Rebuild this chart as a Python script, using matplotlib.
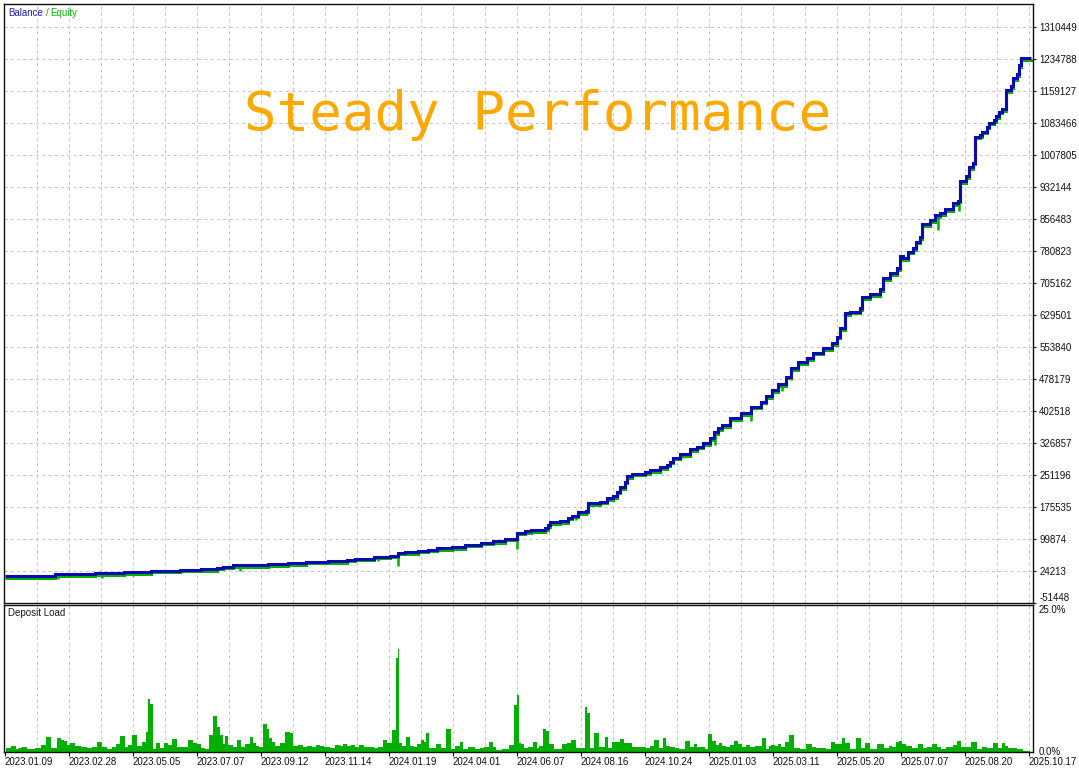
import numpy as np
import matplotlib.pyplot as plt
import matplotlib.transforms as mtransforms
from matplotlib import font_manager

# x runs in chart steps, one date label every 64 steps
date_labels = ['2023.01.09', '2023.02.28', '2023.05.05', '2023.07.07', '2023.09.12',
               '2023.11.14', '2024.01.19', '2024.04.01', '2024.06.07', '2024.08.16',
               '2024.10.24', '2025.01.03', '2025.03.11', '2025.05.20', '2025.07.07',
               '2025.08.20', '2025.10.17']
value_labels = ['-51448', '24213', '99874', '175535', '251196', '326857', '402518',
                '478179', '553840', '629501', '705162', '780823', '856483', '932144',
                '1007805', '1083466', '1159127', '1234788', '1310449']
load_labels = ['0.0%', '25.0%']

# balance steps: (step, balance in thousands)
balance_steps = [
    (0, 11.9), (50, 16.4), (90, 18.8), (119, 21.1), (146, 24.2), (175, 26.6),
    (196, 28.9), (212, 31.3), (218, 34.4), (228, 37.7), (263, 40.0), (283, 42.4),
    (301, 45.5), (323, 47.8), (342, 50.9), (350, 53.3), (369, 57.3), (385, 60.8),
    (393, 67.4), (400, 69.1), (413, 71.5), (423, 74.5), (432, 77.8), (447, 80.9),
    (460, 86.3), (476, 91.1), (488, 94.4), (500, 100.5), (512, 115.2), (520, 118.0),
    (526, 121.1), (540, 125.8), (543, 132.9), (545, 140.0), (555, 142.3), (563, 150.2),
    (567, 154.9), (573, 162.9), (581, 166.7), (583, 184.2), (595, 187.9), (602, 196.0),
    (608, 201.4), (612, 211.6), (615, 222.0), (620, 235.2), (622, 248.7), (627, 253.5),
    (640, 257.4), (645, 262.9), (655, 269.3), (662, 275.4), (665, 282.5), (668, 291.9),
    (675, 299.9), (685, 312.4), (692, 317.9), (698, 325.9), (705, 338.5), (709, 352.7),
    (713, 362.1), (717, 369.2), (725, 385.0), (736, 396.8), (746, 412.4), (756, 424.3),
    (761, 437.7), (767, 451.9), (773, 465.4), (781, 483.3), (786, 503.2), (793, 517.4),
    (802, 526.8), (808, 540.0), (818, 550.4), (827, 562.2), (832, 577.8), (835, 597.7),
    (840, 633.1), (845, 636.9), (855, 644.9), (857, 670.9), (865, 678.8), (875, 689.9),
    (878, 715.8), (885, 727.7), (892, 739.5), (895, 768.5), (898, 763.1), (903, 778.7),
    (908, 786.7), (911, 802.3), (915, 812.7), (917, 844.1), (925, 853.6), (930, 865.4),
    (935, 869.4), (940, 878.8), (948, 893.0), (953, 899.6), (955, 945.8), (961, 957.6),
    (964, 978.9), (968, 989.5), (970, 1050.5), (975, 1054.5), (977, 1062.8), (982, 1074.6),
    (984, 1084.0), (989, 1090.0), (991, 1099.4), (994, 1110.0), (997, 1115.9),
    (1001, 1160.8), (1006, 1170.3), (1008, 1189.1), (1012, 1198.6), (1014, 1219.9),
    (1016, 1236.4), (1026, 1237.5),
]

# equity drawdown spikes: (step, lowest equity in thousands)
equity_dips = [
    (53, 7.7), (97, 10.7), (128, 14.8), (235, 28.2), (373, 51.9), (393, 40.7),
    (512, 80.9), (571, 148.7), (582, 160.6), (678, 294.3), (710, 326.0),
    (746, 382.7), (777, 453.5), (786, 479.5), (827, 554.2), (933, 834.0), (954, 878.8),
]

# deposit load bars: (step, load %)
deposit_load = [
    (2, 0.74), (9, 1.03), (12.5, 0.51), (15, 0.68), (19.7, 0.86), (24.2, 0.51),
    (28.3, 0.46), (32.5, 0.63), (38.7, 1.2), (43.3, 2.57), (49.2, 0.63), (54.7, 2.4),
    (57.2, 2.05), (60, 1.88), (63.3, 1.15), (67.5, 1.49), (72.5, 1.03), (79.2, 0.8),
    (84.2, 0.74), (89.7, 0.91), (95, 1.66), (99.2, 0.91), (104.2, 0.51), (109.2, 0.91),
    (113.3, 1.37), (117.5, 2.74), (121.7, 0.8), (125, 1.2), (129.3, 2.86), (134.2, 1.03),
    (140, 1.71), (142.5, 3.42), (144.2, 9.02), (145.8, 8.22), (149.2, 0.51), (153.3, 1.59),
    (156.7, 0.63), (161.7, 1.59), (165, 1.2), (169.2, 2.23), (174.2, 0.91), (179.2, 0.86),
    (186.3, 2.05), (190, 1.59), (194.2, 1.32), (198.3, 0.63), (201.7, 0.51), (205.7, 2.91),
    (211.2, 6.16), (213.3, 4.23), (216, 2.91), (219, 1.37), (221.8, 2.74), (225, 1.2),
    (230, 0.86), (234.5, 2.05), (237.8, 0.91), (243, 1.37), (246, 2.62), (249.3, 1.49),
    (252.7, 1.03), (256, 0.86), (260, 4.79), (263, 3.94), (265.5, 2.35), (268.3, 1.66),
    (271.7, 1.08), (277.5, 1.49), (283.3, 3.37), (285.8, 3.3), (290.3, 1.08),
    (296.3, 1.2), (299.7, 0.91), (304.2, 1.08), (308.8, 0.86), (313, 1.2), (316.7, 1.03),
    (321.7, 0.8), (327.5, 0.68), (333, 1.2), (336.7, 1.03), (340, 1.37), (343.3, 1.03),
    (348.3, 1.15), (351.7, 0.91), (357, 1.15), (360.7, 0.86), (365.8, 0.86), (371.2, 0.74),
    (375, 0.91), (380.7, 2.05), (383.7, 1.59), (390, 3.77), (391.7, 16.04), (393.3, 17.58),
    (395.5, 1.49), (398.3, 1.03), (403.3, 2.62), (406.7, 1.08), (410.3, 0.86), (414.5, 1.32),
    (417.3, 2.05), (420, 1.76), (422.7, 3.2), (425.5, 0.63), (428.8, 0.63), (433, 1.37),
    (438.3, 0.63), (444.2, 3.89), (448.3, 0.51), (452.5, 1.03), (456.7, 1.76), (460, 0.51),
    (466.7, 0.86), (473.3, 0.56), (476.7, 0.74), (481.7, 0.86), (486, 1.71), (489.3, 0.91),
    (493.3, 0.39), (500, 0.51), (507.3, 1.15), (510.8, 8.05), (512.5, 9.76), (514.5, 1.49),
    (517.3, 1.37), (520.3, 0.63), (525, 0.91), (530.3, 1.71), (533.3, 0.63), (535.5, 1.03),
    (540, 3.94), (542.2, 3.65), (545, 1.37), (553.3, 0.56), (560, 1.37), (563.3, 1.59),
    (568.3, 2.05), (573.3, 0.63), (577.5, 0.63), (581.7, 7.58), (583, 6.62), (586, 0.63),
    (592, 3.2), (595, 0.91), (598.3, 0.91), (601.2, 2.62), (605.5, 0.63), (609.2, 1.66),
    (613, 1.66), (616.7, 2.17), (620.7, 1.59), (624.2, 1.49), (629.3, 0.91), (638.3, 0.91),
    (643, 0.68), (646.3, 1.08), (651.7, 2.05), (656.3, 0.63), (659.3, 2.4), (663.3, 1.08),
    (667.5, 0.91), (672.5, 0.68), (676.3, 0.56), (683.3, 1.88), (687, 0.91), (690.8, 1.37),
    (693.7, 0.91),
    (697.5, 0.86), (701.7, 0.51), (704.7, 3.08), (709.3, 1.93), (712.2, 1.15), (715.5, 1.49),
    (718.8, 1.08), (722.7, 0.86), (726.7, 1.15), (731.7, 1.93), (735, 1.32), (739.2, 0.91),
    (743.3, 1.15), (746.7, 0.91), (753.8, 1.03), (759.7, 2.45), (762.2, 0.51), (765, 0.98),
    (767.8, 1.2), (771.7, 1.08), (775, 1.32), (777.8, 0.91), (782.7, 1.76), (786, 2.91),
    (792.5, 0.68), (796.7, 0.51), (805, 1.37), (808.3, 0.8), (813.3, 0.63), (818.3, 0.68),
    (823.3, 0.46), (828.3, 1.76), (831.7, 1.37), (835.5, 1.32), (838.3, 2.45), (841.7, 1.59),
    (847.5, 0.51), (855, 2.4), (857.5, 0.63), (862.7, 1.54), (866.7, 0.51), (876.7, 1.37),
    (881.7, 0.63), (885.5, 1.08), (888.8, 0.91), (892.7, 1.76), (895.5, 1.88), (898.3, 1.37),
    (904.2, 1.08), (910, 0.68), (916, 1.32), (919.3, 0.68), (924.2, 0.86), (930, 1.32),
    (934, 0.86), (937.8, 0.46), (945, 0.86), (950.3, 1.2), (954, 1.88), (957.3, 0.91),
    (961.3, 0.86), (970, 1.76), (973.3, 0.51), (980, 0.86), (983.7, 0.68), (991.3, 1.59),
    (994.7, 0.68), (999, 1.54), (1001.8, 1.08), (1005, 0.74), (1009.7, 0.63), (1014.2, 0.51),
    (1021.3, 0.17),
]

BLUE = '#0a0ab0'
GREEN = '#00b000'
GRID = '#c8c8c8'

installed = {f.name for f in font_manager.fontManager.ttflist}
if 'Liberation Sans Narrow' in installed:
    plt.rcParams['font.family'] = 'Liberation Sans Narrow'
    plt.rcParams['font.size'] = 8
else:
    plt.rcParams['font.family'] = 'Liberation Sans'
    plt.rcParams['font.size'] = 7

W, H = 1079, 769
fig = plt.figure(figsize=(W / 100, H / 100), dpi=100)


def box(l, t, r, b):
    return [l / W, 1 - b / H, (r - l) / W, (b - t) / H]


ax = fig.add_axes(box(4, 4, 1033, 603))
ax2 = fig.add_axes(box(4, 605, 1033, 752))

pos = np.array([p for p, _ in balance_steps], dtype=float)
bal = np.array([v for _, v in balance_steps]) * 1000
ticks_y = [float(v) for v in value_labels]
ticks_x = np.arange(len(date_labels)) * 64
grid_x = np.arange(32, ticks_x[-1] + 1, 32)

for a in (ax, ax2):
    for gx in grid_x:
        a.axvline(gx, color=GRID, lw=0.75, ls=(0, (3, 3)), zorder=0)
    a.set_xlim(-1, 1028)
    for s in a.spines.values():
        s.set_linewidth(1.0)
        s.set_color('#101010')
    a.yaxis.tick_right()

for gy in ticks_y[1:]:
    ax.axhline(gy, color=GRID, lw=0.75, ls=(0, (3, 3)), zorder=0)

# equity, drawn just under the balance line
shift = mtransforms.offset_copy(ax.transData, fig=fig, x=0, y=-1.5, units='dots')
ax.plot(pos, bal, drawstyle='steps-post', color=GREEN, lw=2.2, transform=shift,
        solid_joinstyle='miter', solid_capstyle='butt', zorder=2)
for p, low in equity_dips:
    i = np.searchsorted(pos, p, side='right') - 1
    ax.vlines(p, low * 1000, bal[i], color=GREEN, lw=1.8, transform=shift, zorder=2)
ax.plot(pos, bal, drawstyle='steps-post', color=BLUE, lw=2.2,
        solid_joinstyle='miter', solid_capstyle='butt', zorder=3)

ax.set_ylim(-51448, 1364500)
ax.set_yticks(ticks_y)
ax.set_yticklabels(value_labels)
ax.get_yticklabels()[0].set_va('bottom')
ax.set_xticks([])
ax.tick_params(axis='y', length=2, pad=2.5, colors='#101010')

# deposit load bars
lp = np.array([p for p, _ in deposit_load])
lv = np.array([v for _, v in deposit_load])
mid = (lp[1:] + lp[:-1]) / 2
edges = np.concatenate([[lp[0] - 1.5], mid, [lp[-1] + 4]])
ax2.stairs(lv, edges, fill=True, color=GREEN, lw=0, zorder=2)
ax2.set_ylim(0, 25)
ax2.set_yticks([0, 25])
ax2.set_yticklabels(load_labels)
ax2.get_yticklabels()[1].set_va('top')
ax2.get_yticklabels()[0].set_va('center')
ax2.tick_params(axis='y', length=0, pad=4, colors='#101010')
ax2.set_xticks(ticks_x)
ax2.set_xticklabels(date_labels)
for lbl in ax2.get_xticklabels():
    lbl.set_ha('left')
ax2.tick_params(axis='x', length=3, pad=0.5, colors='#101010')

fig.text(8 / W, 1 - 12.5 / H, 'Balance', color='#2020a0', va='center')
fig.text(45.5 / W, 1 - 12.5 / H, '/', color='#606060', va='center')
fig.text(50.5 / W, 1 - 12.5 / H, 'Equity', color='#10b010', va='center')
fig.text(8 / W, 1 - 613.5 / H, 'Deposit Load', color='#1a1a1a', va='center')

fig.text(537.5 / W, 1 - 130 / H, 'Steady Performance', color='#ffa800',
         family='DejaVu Sans Mono', fontsize=39, ha='center', va='baseline')

fig.savefig('out.png', dpi=100)
